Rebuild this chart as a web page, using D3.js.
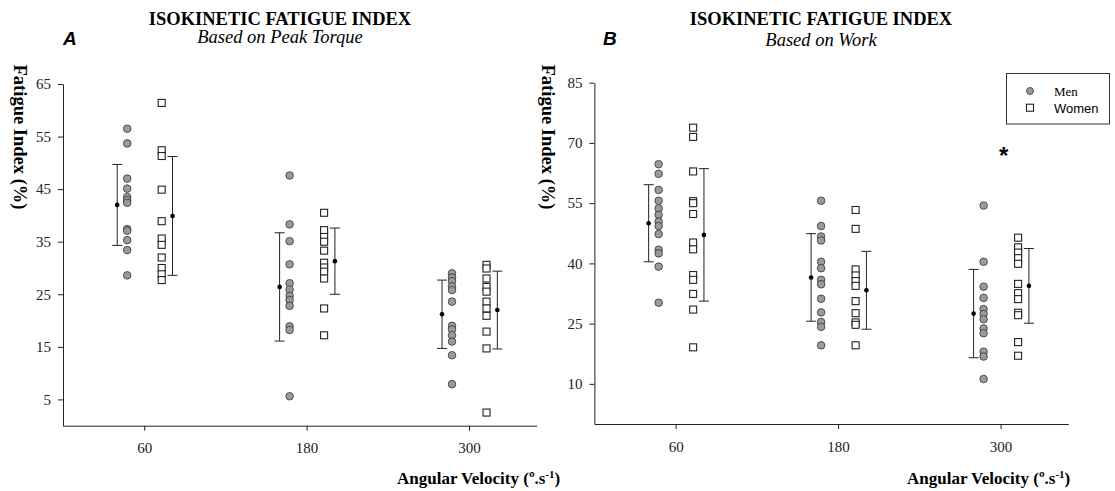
<!DOCTYPE html>
<html>
<head>
<meta charset="utf-8">
<script src="https://cdn.jsdelivr.net/npm/d3@7/dist/d3.min.js"></script>
<style>
  body { margin: 0; background: #fff; }
  svg text { font-family: "Liberation Serif", "Times New Roman", serif; }
</style>
</head>
<body>
<svg id="chart" width="1115" height="491"></svg>
<script>
// angular velocities (x categories)
const velocities = [60, 180, 300];

// Panel A: fatigue index based on peak torque (%)
const torqueMen = [
    [56.5, 53.7, 47.0, 45.1, 43.5, 42.9, 42.4, 37.4, 37.1, 35.3, 33.4, 28.6],
    [47.6, 38.3, 35.1, 30.7, 27.1, 25.9, 24.7, 23.9, 22.8, 18.9, 18.2, 5.6],
    [29.0, 28.2, 27.5, 26.5, 25.8, 23.6, 19.0, 18.3, 17.2, 16.0, 13.4, 7.9]
];
const torqueWomen = [
    [61.4, 52.4, 51.3, 44.9, 38.9, 35.6, 34.4, 32.0, 30.0, 28.8, 27.7],
    [40.5, 37.2, 35.9, 35.0, 33.3, 31.0, 30.1, 29.3, 28.0, 22.3, 17.2],
    [30.6, 29.9, 28.0, 26.4, 25.5, 23.6, 22.3, 20.9, 17.9, 14.7, 2.5]
];
const torqueMenMean = [42.0, 26.4, 21.2];
const torqueMenSD = [7.7, 10.3, 6.5];
const torqueWomenMean = [39.9, 31.3, 22.0];
const torqueWomenSD = [11.3, 6.3, 7.4];

// Panel B: fatigue index based on work (%)
const workMen = [
    [64.7, 62.3, 58.3, 55.6, 53.7, 52.1, 50.4, 49.3, 47.3, 43.4, 42.5, 39.2, 30.2],
    [55.6, 49.3, 46.7, 45.7, 40.4, 38.8, 35.9, 34.8, 31.2, 27.8, 25.4, 24.2, 19.6],
    [54.4, 40.4, 34.2, 31.4, 28.6, 27.4, 26.1, 23.8, 22.6, 18.0, 16.8, 11.2]
];
const workWomen = [
    [73.8, 71.5, 62.9, 55.5, 55.0, 52.3, 45.2, 43.5, 37.1, 35.9, 32.4, 28.5, 19.1],
    [53.3, 48.6, 38.5, 37.0, 35.6, 34.4, 30.6, 27.6, 25.3, 24.7, 19.6],
    [46.4, 44.0, 42.7, 41.3, 39.9, 34.9, 32.6, 31.1, 27.7, 27.1, 20.4, 17.0]
];
const workMenMean = [50.0, 36.5, 27.5];
const workMenSD = [9.6, 10.9, 11.0];
const workWomenMean = [47.1, 33.3, 34.4];
const workWomenSD = [16.5, 9.7, 9.3];

const torqueTicks = [5, 15, 25, 35, 45, 55, 65];
const workTicks = [10, 25, 40, 55, 70, 85];

const svg = d3.select("#chart");

function drawPanel(opt) {
    const g = svg.append("g");

    const x = d3.scaleLinear().domain([0, 350]).range([opt.left, opt.right]);
    const y = d3.scaleLinear().domain([0, opt.yMax]).range([opt.bottom, opt.top]);

    // axes
    const yAxis = g.append("g")
        .attr("transform", `translate(${opt.left},0)`)
        .call(d3.axisLeft(y).tickValues(opt.ticks).tickSize(5).tickPadding(7).tickSizeOuter(0));
    const xAxis = g.append("g")
        .attr("transform", `translate(0,${opt.bottom})`)
        .call(d3.axisBottom(x).tickValues(velocities).tickSize(5).tickPadding(12).tickSizeOuter(0));

    [yAxis, xAxis].forEach(a => {
        a.select(".domain").attr("stroke", "#222");
        a.selectAll(".tick line").attr("stroke", "#222");
        a.selectAll("text")
            .style("font-family", "'Liberation Serif', serif")
            .style("font-size", "15px")
            .attr("fill", "#222");
    });

    const menOff = -17, menBarOff = -27, womenOff = 17.5, womenBarOff = 28.3;

    // error bars
    function errorBar(means, sds, off) {
        velocities.forEach((v, i) => {
            const cx = x(v) + off;
            const hi = y(means[i] + sds[i]), lo = y(means[i] - sds[i]);
            g.append("line").attr("x1", cx).attr("x2", cx).attr("y1", hi).attr("y2", lo)
                .attr("stroke", "#222").attr("stroke-width", 1);
            [hi, lo].forEach(yy => g.append("line")
                .attr("x1", cx - 5).attr("x2", cx + 5).attr("y1", yy).attr("y2", yy)
                .attr("stroke", "#222").attr("stroke-width", 1));
            g.append("circle").attr("cx", cx).attr("cy", y(means[i])).attr("r", 2.3).attr("fill", "#000");
        });
    }
    errorBar(opt.menMean, opt.menSD, menBarOff);
    errorBar(opt.womenMean, opt.womenSD, womenBarOff);

    // men: grey circles
    velocities.forEach((v, i) => {
        g.selectAll(null).data(opt.men[i]).enter().append("circle")
            .attr("cx", x(v) + menOff)
            .attr("cy", d => y(d))
            .attr("r", 3.8)
            .attr("fill", "#9a9a9a")
            .attr("stroke", "#333")
            .attr("stroke-width", 0.8);
    });

    // women: open squares
    velocities.forEach((v, i) => {
        g.selectAll(null).data(opt.women[i]).enter().append("rect")
            .attr("x", x(v) + womenOff - 3.5)
            .attr("y", d => y(d) - 3.5)
            .attr("width", 7)
            .attr("height", 7)
            .attr("fill", "#fff")
            .attr("stroke", "#222")
            .attr("stroke-width", 1.1);
    });

    // titles
    g.append("text").attr("x", opt.titleX).attr("y", 25)
        .attr("text-anchor", "middle").style("font-weight", "bold").style("font-size", "18.5px")
        .text("ISOKINETIC FATIGUE INDEX");
    g.append("text").attr("x", opt.titleX).attr("y", opt.subY)
        .attr("text-anchor", "middle").style("font-style", "italic").style("font-size", "18.5px")
        .text(opt.subtitle);
    g.append("text").attr("x", opt.letterX).attr("y", 45)
        .style("font-family", "'Liberation Sans', Arial, sans-serif")
        .style("font-weight", "bold").style("font-style", "italic").style("font-size", "19px")
        .text(opt.letter);

    // y label
    g.append("text")
        .attr("transform", `translate(${opt.yLabelX},137) rotate(90)`)
        .attr("text-anchor", "middle")
        .attr("dominant-baseline", "central")
        .style("font-weight", "bold").style("font-size", "18.5px")
        .text("Fatigue Index (%)");

    // x label
    const xl = g.append("text").attr("x", opt.xLabelX).attr("y", 484)
        .style("font-weight", "bold").style("font-size", "17px");
    xl.append("tspan").text("Angular Velocity (º.s");
    xl.append("tspan").attr("dy", -6).style("font-size", "11px").text("-1");
    xl.append("tspan").attr("dy", 6).text(")");

    return { x, y, g };
}

drawPanel({
    left: 63, right: 536.7, top: 84, bottom: 425.7, yMax: 65, ticks: torqueTicks,
    men: torqueMen, women: torqueWomen,
    menMean: torqueMenMean, menSD: torqueMenSD, womenMean: torqueWomenMean, womenSD: torqueWomenSD,
    titleX: 280, subY: 43, subtitle: "Based on Peak Torque", letter: "A", letterX: 63,
    yLabelX: 20, xLabelX: 397
});

const pB = drawPanel({
    left: 594.4, right: 1068.3, top: 82.7, bottom: 424, yMax: 85, ticks: workTicks,
    men: workMen, women: workWomen,
    menMean: workMenMean, menSD: workMenSD, womenMean: workWomenMean, womenSD: workWomenSD,
    titleX: 821, subY: 46, subtitle: "Based on Work", letter: "B", letterX: 603,
    yLabelX: 548, xLabelX: 907
});

// significance marker at 300 (panel B)
pB.g.append("text").attr("x", pB.x(300) + 3).attr("y", 164)
    .attr("text-anchor", "middle")
    .style("font-family", "'Liberation Sans', Arial, sans-serif")
    .style("font-weight", "bold").style("font-size", "24px")
    .text("*");

// legend
const legend = svg.append("g");
legend.append("rect").attr("x", 1006.5).attr("y", 73.5).attr("width", 103).attr("height", 50.5)
    .attr("fill", "#fff").attr("stroke", "#333").attr("stroke-width", 1);
legend.append("circle").attr("cx", 1030).attr("cy", 91).attr("r", 3.5)
    .attr("fill", "#9a9a9a").attr("stroke", "#333").attr("stroke-width", 0.8);
legend.append("rect").attr("x", 1026.5).attr("y", 104.2).attr("width", 7).attr("height", 7)
    .attr("fill", "#fff").attr("stroke", "#222").attr("stroke-width", 1.1);
legend.append("text").attr("x", 1054).attr("y", 95.5).style("font-size", "13px").text("Men");
legend.append("text").attr("x", 1054).attr("y", 112.5)
    .style("font-family", "'Liberation Sans', Arial, sans-serif").style("font-size", "13px").text("Women");
</script>
</body>
</html>
